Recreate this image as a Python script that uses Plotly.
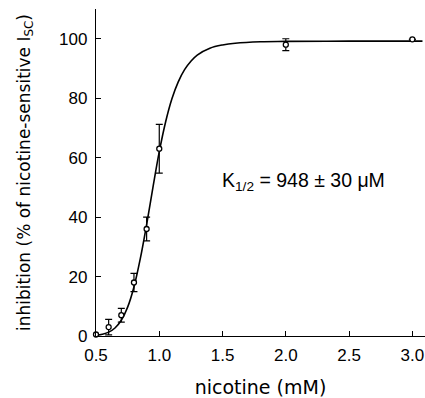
import plotly.graph_objects as go

# Measured data (nicotine concentration in mM, inhibition %)
nicotine_mM = [0.5, 0.6, 0.7, 0.8, 0.9, 1.0, 2.0, 3.0]
inhibition = [0.5, 3.0, 7.0, 18.0, 36.0, 63.0, 98.0, 99.8]
inhibition_err = [0.0, 2.6, 2.3, 3.1, 4.0, 8.2, 2.0, 0.0]

# Fitted curve
fit_x = [0.5, 0.55, 0.6, 0.65, 0.7, 0.75, 0.8, 0.85, 0.9, 0.95, 1.0, 1.05,
         1.1, 1.15, 1.2, 1.25, 1.3, 1.4, 1.5, 1.6, 1.8, 2.0, 2.5, 3.0, 3.08]
fit_y = [0.2, 0.6, 1.3, 2.7, 5.3, 9.7, 16.5, 26.0, 37.5, 50.0, 62.0, 72.0,
         79.8, 85.5, 89.6, 92.4, 94.5, 96.8, 97.9, 98.5, 99.0, 99.1, 99.2, 99.2, 99.2]

x_ticks = [0.5, 1.0, 1.5, 2.0, 2.5, 3.0]
x_tick_labels = ["0.5", "1.0", "1.5", "2.0", "2.5", "3.0"]
y_ticks = [0, 20, 40, 60, 80, 100]
y_tick_labels = ["0", "20", "40", "60", "80", "100"]

fig = go.Figure()
fig.add_trace(go.Scatter(
    x=fit_x, y=fit_y, mode="lines", line=dict(color="black", width=1.6, shape="spline"),
    hoverinfo="skip", showlegend=False, cliponaxis=False))
fig.add_trace(go.Scatter(
    x=nicotine_mM, y=inhibition, mode="markers",
    marker=dict(symbol="circle", size=5, color="white", line=dict(color="black", width=1.3)),
    error_y=dict(type="data", array=inhibition_err, visible=True, color="black", thickness=1.2, width=3.5),
    showlegend=False, cliponaxis=False))

fig.add_annotation(
    x=1.481, y=52.1, xref="x", yref="y", xanchor="left", yanchor="middle",
    text="K<sub>1/2</sub> = 948 ± 30 μM", showarrow=False,
    font=dict(family="Liberation Sans", size=19.5, color="black"))

fig.update_layout(
    width=425, height=398,
    margin=dict(l=96, r=0, t=9, b=62),
    paper_bgcolor="white", plot_bgcolor="white",
    font=dict(family="Liberation Sans", size=17, color="black"),
    xaxis=dict(
        range=[0.5, 3.1], tickvals=x_ticks, ticktext=x_tick_labels,
        ticks="inside", ticklen=5, tickwidth=1.2, tickcolor="black",
        showline=True, linecolor="black", linewidth=1.4, showgrid=False, zeroline=False,
        ticklabelstandoff=3,
        title=dict(text="nicotine (mM)", font=dict(family="DejaVu Sans", size=19), standoff=17),
        tickfont=dict(family="Liberation Sans", size=17)),
    yaxis=dict(
        range=[0, 110], tickvals=y_ticks, ticktext=y_tick_labels,
        ticks="inside", ticklen=5, tickwidth=1.2, tickcolor="black",
        showline=True, linecolor="black", linewidth=1.4, showgrid=False, zeroline=False,
        ticklabelstandoff=4,
        title=dict(text="inhibition (% of nicotine-sensitive I<sub>SC</sub>)",
                   font=dict(family="DejaVu Sans", size=17), standoff=24),
        tickfont=dict(family="Liberation Sans", size=17)),
)

fig.write_html("out.html", config={"displayModeBar": False},
               post_script="document.body.style.margin='0';")
